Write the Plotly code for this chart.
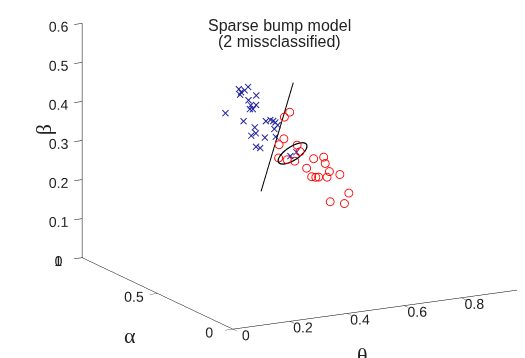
import numpy as np
import plotly.graph_objects as go

# Class 1 (blue crosses)
theta_blue = [0.311, 0.266, 0.289, 0.358, 0.317, 0.293, 0.345, 0.300, 0.345, 0.376,
              0.281, 0.264, 0.301, 0.353, 0.448, 0.405, 0.360, 0.447, 0.409, 0.314,
              0.397, 0.328, 0.323, 0.440, 0.345, 0.333, 0.465, 0.486]
alpha_blue = [0.55, 0.45, 0.50, 0.60, 0.50, 0.40, 0.55, 0.45, 0.50, 0.60,
              0.40, 0.55, 0.50, 0.45, 0.60, 0.50, 0.40, 0.55, 0.50, 0.45,
              0.60, 0.50, 0.40, 0.55, 0.50, 0.45, 0.50, 0.50]
beta_blue = [0.483, 0.498, 0.480, 0.466, 0.497, 0.496, 0.451, 0.461, 0.448, 0.416,
             0.462, 0.426, 0.411, 0.415, 0.381, 0.401, 0.420, 0.377, 0.380, 0.403,
             0.352, 0.371, 0.385, 0.348, 0.341, 0.348, 0.305, 0.313]

# Class 2 (red circles)
theta_red = [0.417, 0.462, 0.468, 0.372, 0.488, 0.472, 0.476, 0.453, 0.506, 0.493,
             0.581, 0.560, 0.574, 0.601, 0.540, 0.664, 0.539, 0.527, 0.616, 0.669,
             0.551, 0.680]
alpha_red = [0.45, 0.50, 0.55, 0.40, 0.50, 0.45, 0.60, 0.50, 0.55, 0.40,
             0.50, 0.45, 0.60, 0.50, 0.40, 0.55, 0.50, 0.45, 0.60, 0.50,
             0.40, 0.55]
beta_red = [0.419, 0.418, 0.340, 0.362, 0.331, 0.325, 0.281, 0.297, 0.279, 0.314,
            0.291, 0.286, 0.245, 0.252, 0.262, 0.229, 0.245, 0.254, 0.218, 0.190,
            0.198, 0.153]

# Separating boundary (segment)
line_theta = [0.4754, 0.3627]
line_alpha = [0.5, 0.5]
line_beta = [0.4918, 0.2250]

# Ellipse around misclassified points
ell_center = (0.4729, 0.5, 0.3110)
ell_u = (0.0487, 0.0, 0.0183)
ell_v = (-0.0129, 0.0, 0.0157)

theta_ticks = [0, 0.2, 0.4, 0.6, 0.8, 1]
theta_labels = ["0", "0.2", "0.4", "0.6", "0.8", "1"]
alpha_ticks = [0, 0.5, 1]
alpha_labels = ["0", "0.5", "1"]
beta_ticks = [0, 0.1, 0.2, 0.3, 0.4, 0.5, 0.6]
beta_labels = ["0", "0.1", "0.2", "0.3", "0.4", "0.5", "0.6"]

t = np.linspace(0, 2 * np.pi, 80)
ex = ell_center[0] + ell_u[0] * np.cos(t) + ell_v[0] * np.sin(t)
ey = ell_center[1] + ell_u[1] * np.cos(t) + ell_v[1] * np.sin(t)
ez = ell_center[2] + ell_u[2] * np.cos(t) + ell_v[2] * np.sin(t)

fig = go.Figure()
fig.add_trace(go.Scatter3d(x=theta_blue, y=alpha_blue, z=beta_blue, mode="text",
                           text=["×"] * len(theta_blue), textposition="middle center",
                           textfont=dict(family="DejaVu Sans", size=12, color="rgb(35,35,160)"),
                           showlegend=False))
fig.add_trace(go.Scatter3d(x=theta_red, y=alpha_red, z=beta_red, mode="markers",
                           marker=dict(symbol="circle-open", size=5, color="rgb(255,0,0)"),
                           showlegend=False))
fig.add_trace(go.Scatter3d(x=line_theta, y=line_alpha, z=line_beta, mode="lines",
                           line=dict(color="black", width=2), showlegend=False))
fig.add_trace(go.Scatter3d(x=ex, y=ey, z=ez, mode="lines",
                           line=dict(color="black", width=2.5), showlegend=False))

axis_common = dict(showgrid=False, showbackground=False, zeroline=False,
                   showline=True, linecolor="black", linewidth=1,
                   ticks="outside", ticklen=9, tickcolor="black", tickangle=0,
                   tickfont=dict(family="Liberation Sans", size=13, color="#222"),
                   showspikes=False, autorange=False, title=dict(text=""))

greek = dict(family="Liberation Serif", size=22, color="#222")
title_font = dict(family="Liberation Sans", size=16, color="#222")
S = 1.87
C = (-0.167, 0.041, -0.164)
fig.update_layout(
    width=525, height=358,
    margin=dict(l=0, r=0, t=0, b=0),
    paper_bgcolor="white",
    annotations=[
        dict(text="Sparse bump model", x=0.517, xref="paper", xanchor="center",
             y=1 - 17.5 / 358, yref="paper", yanchor="middle",
             showarrow=False, font=title_font),
        dict(text="(2 missclassified)", x=0.517, xref="paper", xanchor="center",
             y=1 - 34 / 358, yref="paper", yanchor="middle",
             showarrow=False, font=title_font),
        dict(text="θ", x=0.676, y=0.028, xref="paper", yref="paper", xanchor="center",
             yanchor="middle", showarrow=False, font=greek),
        dict(text="α", x=0.232, y=0.084, xref="paper", yref="paper", xanchor="center",
             yanchor="middle", showarrow=False, font=greek),
        dict(text="β", x=0.067, y=0.659, xref="paper", yref="paper", xanchor="center",
             yanchor="middle", showarrow=False, textangle=-90, font=greek),
    ],
    scene=dict(
        domain=dict(x=[0, 1.0], y=[0, 1.0]),
        xaxis=dict(range=[0, 1], tickvals=theta_ticks, ticktext=theta_labels, **axis_common),
        yaxis=dict(range=[0, 1], tickvals=alpha_ticks, ticktext=alpha_labels, **axis_common),
        zaxis=dict(range=[0, 0.6], tickvals=beta_ticks, ticktext=beta_labels, **axis_common),
        aspectmode="manual",
        aspectratio=dict(x=0.969 * S, y=0.95 * S, z=0.724 * S),
        camera=dict(eye=dict(x=-0.916 + C[0], y=-1.702 + C[1], z=0.51 + C[2]),
                    up=dict(x=0, y=0, z=1),
                    center=dict(x=C[0], y=C[1], z=C[2]),
                    projection=dict(type="orthographic")),
    ),
)

fig.write_html("out.html")
